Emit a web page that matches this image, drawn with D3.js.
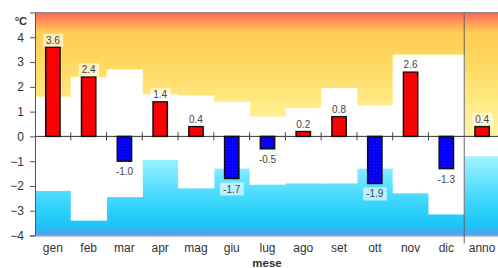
<!DOCTYPE html>
<html><head><meta charset="utf-8">
<script src="https://cdn.jsdelivr.net/npm/d3@7"></script>
<style>
body{margin:0;background:#fff;}
svg{display:block;font-family:"Liberation Sans",Arial,sans-serif;}
</style></head>
<body>
<svg id="chart" width="498" height="268"></svg>
<script>
const months = ["gen","feb","mar","apr","mag","giu","lug","ago","set","ott","nov","dic","anno"];
const anomalies = [3.6, 2.4, -1.0, 1.4, 0.4, -1.7, -0.5, 0.2, 0.8, -1.9, 2.6, -1.3, 0.4];
const upperWhite = [1.6, 2.4, 2.7, 1.7, 1.65, 1.4, 0.8, 1.15, 1.95, 1.25, 3.3, 3.3, 0];
const lowerWhite = [-2.2, -3.4, -2.45, -0.95, -2.1, -1.3, -1.95, -1.9, -1.9, -1.3, -2.3, -3.15, -0.8];
const yTicks = [-4, -3, -2, -1, 0, 1, 2, 3, 4];
const yLabel = "°C";
const xLabel = "mese";

const svg = d3.select("#chart");
const L = 35, R = 500, T = 12.5, B = 235.5;
const x = d3.scaleBand().domain(months).range([L, R]).padding(0);
const y = d3.scaleLinear().domain([-4, 5]).range([B, T]);

const defs = svg.append("defs");
const grad = defs.append("linearGradient").attr("id","bg")
  .attr("gradientUnits","userSpaceOnUse").attr("x1",0).attr("x2",0).attr("y1",y(5)).attr("y2",y(-4));
[[5,"#ff6258"],[4.6,"#ff9a58"],[4.2,"#ffcc52"],[3,"#ffd860"],[1.5,"#ffe880"],[0.02,"#fff6a8"],
 [-0.02,"#c8faff"],[-1,"#98f0ff"],[-2,"#5ce0ff"],[-3,"#2cd0fa"],[-3.6,"#1ec4f8"],[-4,"#5a9cf0"]]
 .forEach(([v,c])=>grad.append("stop").attr("offset",((5-v)/9)).attr("stop-color",c));

function pat(id, base, dot){
  const p = defs.append("pattern").attr("id",id).attr("patternUnits","userSpaceOnUse").attr("width",3).attr("height",3);
  p.append("rect").attr("width",3).attr("height",3).attr("fill",base);
  p.append("rect").attr("x",1).attr("y",1).attr("width",1).attr("height",1).attr("fill",dot);
}
pat("pr","#ff0000","#dc0818");
pat("pb","#0000ff","#3a08e0");

svg.append("rect").attr("x",L).attr("y",T).attr("width",R-L).attr("height",B-T).attr("fill","url(#bg)");

// white step areas
svg.append("g").selectAll("rect.up").data(months).join("rect")
  .attr("x",d=>x(d)).attr("width",x.bandwidth()+0.5)
  .attr("y",(d,i)=>y(upperWhite[i])).attr("height",(d,i)=>y(0)-y(upperWhite[i]))
  .attr("fill","#fff");
svg.append("g").selectAll("rect.lo").data(months).join("rect")
  .attr("x",d=>x(d)).attr("width",x.bandwidth()+0.5)
  .attr("y",y(0)).attr("height",(d,i)=>y(lowerWhite[i])-y(0))
  .attr("fill","#fff");

// zero line and category ticks
svg.append("line").attr("x1",L).attr("x2",R).attr("y1",y(0)).attr("y2",y(0)).attr("stroke","#333").attr("stroke-width",1);
svg.append("g").selectAll("line").data(months.slice(1,12)).join("line")
  .attr("x1",d=>x(d)).attr("x2",d=>x(d)).attr("y1",y(0)-4).attr("y2",y(0)+4)
  .attr("stroke","#444").attr("stroke-width",1);

// bars
const bw = x.bandwidth()*0.4;
svg.append("g").selectAll("rect").data(months).join("rect")
  .attr("x",d=>x(d)+(x.bandwidth()-bw)/2).attr("width",bw)
  .attr("y",(d,i)=>y(Math.max(0,anomalies[i]))).attr("height",(d,i)=>Math.abs(y(anomalies[i])-y(0)))
  .attr("fill",(d,i)=>anomalies[i]>=0?"url(#pr)":"url(#pb)")
  .attr("stroke","#111").attr("stroke-width",1.5);

// labels
const lg = svg.append("g");
months.forEach((m,i)=>{
  const v = anomalies[i];
  const cx = x(m)+x.bandwidth()/2;
  const cy = v>=0 ? y(v)-7 : y(v)+10.5;
  const g = lg.append("g");
  const t = g.append("text").attr("x",cx).attr("y",cy).attr("dy","0.35em")
    .attr("text-anchor","middle").attr("font-size",10).attr("fill","#444").text(v.toFixed(1));
  const bb = t.node().getBBox();
  g.insert("rect","text").attr("x",bb.x-3).attr("y",cy-6.5).attr("width",bb.width+6).attr("height",13)
    .attr("fill","#fff").attr("fill-opacity",0.6);
});

// axes
const yAxis = svg.append("g").attr("transform",`translate(${L},0)`)
  .call(d3.axisLeft(y).tickValues(yTicks).tickSize(5).tickPadding(6).tickFormat(d3.format("d")));
yAxis.select(".domain").attr("stroke","#555");
yAxis.selectAll(".tick line").attr("stroke","#555");
yAxis.selectAll("text").attr("font-size",12).attr("fill","#333").attr("font-family","Liberation Sans, Arial, sans-serif");

const xAxis = svg.append("g").attr("transform",`translate(0,${B})`)
  .call(d3.axisBottom(x).tickSize(0).tickPadding(8));
xAxis.select(".domain").attr("stroke","#888");
xAxis.selectAll("text").attr("font-size",12).attr("fill","#333").attr("font-family","Liberation Sans, Arial, sans-serif");

// top border and separator
svg.append("line").attr("x1",L).attr("x2",R).attr("y1",T).attr("y2",T).attr("stroke","#888");
svg.append("line").attr("x1",x("anno")).attr("x2",x("anno")).attr("y1",T).attr("y2",B+8).attr("stroke","#666");

svg.append("text").attr("x",27).attr("y",25).attr("text-anchor","end").attr("font-size",11).attr("font-weight","bold").attr("fill","#333").text(yLabel);
svg.append("text").attr("x",267).attr("y",267).attr("text-anchor","middle").attr("font-size",11.5).attr("font-weight","bold").attr("fill","#333").text(xLabel);
</script>
</body></html>
